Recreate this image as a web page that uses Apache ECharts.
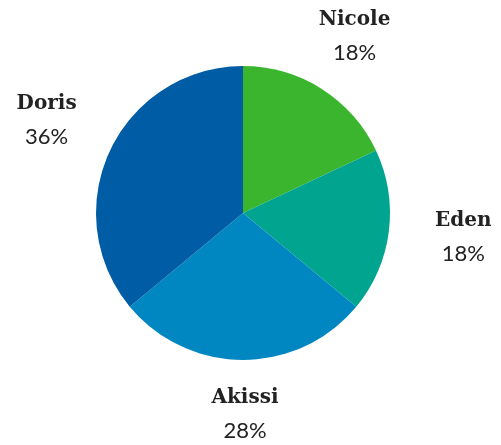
<!DOCTYPE html>
<html><head><meta charset="utf-8">
<script src="https://cdn.jsdelivr.net/npm/echarts@6/dist/echarts.min.js"></script>
<style>html,body{margin:0;padding:0;background:#fff}#c{width:501px;height:445px}</style>
</head><body><div id="c"></div>
<script>
const categories = ['Nicole', 'Eden', 'Akissi', 'Doris'];
const values = [18, 18, 28, 36];
const colors = ['#3bb52e', '#00a48f', '#0087c1', '#005ca4'];
const labelLens = [63, 74, 52, 70];
const labelNudgeX = [-6, -4, -3, 5];
const labelNudgeY = [1, -3, 2, 0];

const chart = echarts.init(document.getElementById('c'));
chart.setOption({
  animation: false,
  series: [{
    type: 'pie',
    center: [243, 213],
    radius: [0, 147],
    startAngle: 90,
    clockwise: true,
    avoidLabelOverlap: false,
    data: categories.map((n, i) => ({
      name: n, value: values[i],
      itemStyle: { color: colors[i] },
      labelLine: { show: false, length: labelLens[i], length2: 0 }
    })),
    label: {
      show: true,
      position: 'outside',
      formatter: p => '{n|' + p.name + '}\n{p|' + p.value + '%}',
      rich: {
        n: { fontFamily: 'DejaVu Serif', fontWeight: 'bold', fontSize: 20, color: '#222', lineHeight: 33, align: 'center' },
        p: { fontFamily: 'Lato', fontWeight: 'normal', fontSize: 22, color: '#222', lineHeight: 33, align: 'center' }
      }
    },
    labelLayout: function (params) {
      return { align: 'center', verticalAlign: 'middle', dx: labelNudgeX[params.dataIndex], dy: labelNudgeY[params.dataIndex] };
    }
  }]
});
</script></body></html>
